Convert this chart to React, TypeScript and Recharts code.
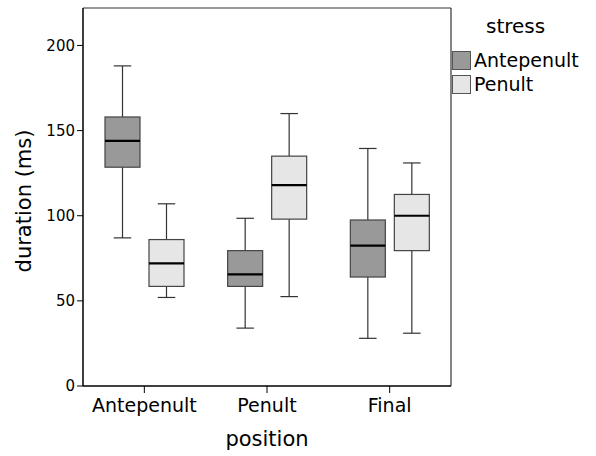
import React from "react";
import { BarChart, Bar, XAxis, YAxis, CartesianGrid } from "recharts";

const positions = ["Antepenult", "Penult", "Final"];
const yTicks = [0, 50, 100, 150, 200];

// stress = Antepenult (dark boxes)
const antepenultMin = [87, 34, 28];
const antepenultQ1 = [128.5, 58.5, 64];
const antepenultMedian = [144, 65.5, 82.5];
const antepenultQ3 = [158, 79.5, 97.5];
const antepenultMax = [188, 98.5, 139.5];

// stress = Penult (light boxes)
const penultMin = [52, 52.5, 31];
const penultQ1 = [58.5, 98, 79.5];
const penultMedian = [72, 118, 100];
const penultQ3 = [86, 135, 112.5];
const penultMax = [107, 160, 131];

const data = positions.map((p, i) => ({
  position: p,
  aRange: [antepenultMin[i], antepenultMax[i]],
  aQ1: antepenultQ1[i],
  aMed: antepenultMedian[i],
  aQ3: antepenultQ3[i],
  pRange: [penultMin[i], penultMax[i]],
  pQ1: penultQ1[i],
  pMed: penultMedian[i],
  pQ3: penultQ3[i],
}));

const FONT = "DejaVu Sans";
const DARK = "#999999";
const LIGHT = "#e6e6e6";

function makeBoxShape(prefix: string, fill: string) {
  return (props: any) => {
    const { x, y, width, height, payload } = props;
    const [lo, hi] = payload[prefix + "Range"];
    const top = Math.min(y, y + height);
    const h = Math.abs(height);
    const pix = (v: number) => top + (h * (hi - v)) / (hi - lo);
    const cx = x + width / 2;
    const cap = width / 2;
    const q1 = pix(payload[prefix + "Q1"]);
    const q3 = pix(payload[prefix + "Q3"]);
    const med = pix(payload[prefix + "Med"]);
    return (
      <g>
        <line x1={cx} x2={cx} y1={pix(hi)} y2={pix(lo)} stroke="#333" strokeWidth={1.2} />
        <line x1={cx - cap / 2} x2={cx + cap / 2} y1={pix(hi)} y2={pix(hi)} stroke="#333" strokeWidth={1.2} />
        <line x1={cx - cap / 2} x2={cx + cap / 2} y1={pix(lo)} y2={pix(lo)} stroke="#333" strokeWidth={1.2} />
        <rect x={x} y={q3} width={width} height={q1 - q3} fill={fill} stroke="#444" strokeWidth={1.2} />
        <line x1={x} x2={x + width} y1={med} y2={med} stroke="#000" strokeWidth={2.2} />
      </g>
    );
  };
}

const legendItems = [
  { label: "Antepenult", fill: DARK },
  { label: "Penult", fill: LIGHT },
];

export default function App() {
  return (
    <div style={{ position: "absolute", left: 0, top: 0, width: 596, height: 456, background: "#fff", fontFamily: FONT }}>
      <BarChart
        width={596}
        height={456}
        data={data}
        margin={{ top: 8, right: 145, bottom: 0, left: 0 }}
        barSize={35}
        barGap={9}
      >
        <CartesianGrid
          stroke="#333"
          strokeWidth={1.2}
          horizontalCoordinatesGenerator={({ offset }: any) => [offset.top]}
          verticalCoordinatesGenerator={({ offset }: any) => [offset.left + offset.width]}
        />
        <XAxis
          dataKey="position"
          height={70}
          tickSize={7}
          tickMargin={6}
          axisLine={{ stroke: "#000", strokeWidth: 1.5 }}
          tickLine={{ stroke: "#000" }}
          tick={{ fill: "#000", fontSize: 19, fontFamily: FONT }}
          label={{
            content: ({ viewBox }: any) => (
              <text
                x={viewBox.x + viewBox.width / 2}
                y={viewBox.y + 60}
                textAnchor="middle"
                fontSize={21}
                fontFamily={FONT}
                fill="#000"
              >
                position
              </text>
            ),
          }}
        />
        <YAxis
          width={83}
          domain={[0, 222]}
          ticks={yTicks}
          tickSize={6}
          tickMargin={2}
          axisLine={{ stroke: "#000", strokeWidth: 1.5 }}
          tickLine={{ stroke: "#000" }}
          tick={{ fill: "#000", fontSize: 15, fontFamily: FONT }}
          label={{
            content: () => (
              <text
                x={31}
                y={201}
                transform="rotate(-90 31 201)"
                textAnchor="middle"
                fontSize={21}
                fontFamily={FONT}
                fill="#000"
              >
                duration (ms)
              </text>
            ),
          }}
        />
        <Bar dataKey="aRange" name="Antepenult" fill={DARK} shape={makeBoxShape("a", DARK)} isAnimationActive={false} />
        <Bar dataKey="pRange" name="Penult" fill={LIGHT} shape={makeBoxShape("p", LIGHT)} isAnimationActive={false} />
      </BarChart>
      <div style={{ position: "absolute", left: 452, top: 13, color: "#000" }}>
        <div style={{ fontSize: 20, marginLeft: 34, lineHeight: "26px", marginBottom: 9 }}>stress</div>
        {legendItems.map((it) => (
          <div key={it.label} style={{ display: "flex", alignItems: "center", height: 24, fontSize: 19 }}>
            <span
              style={{
                display: "inline-block",
                width: 17,
                height: 17,
                background: it.fill,
                border: "1px solid #555",
                marginRight: 3,
              }}
            />
            <span>{it.label}</span>
          </div>
        ))}
      </div>
    </div>
  );
}
